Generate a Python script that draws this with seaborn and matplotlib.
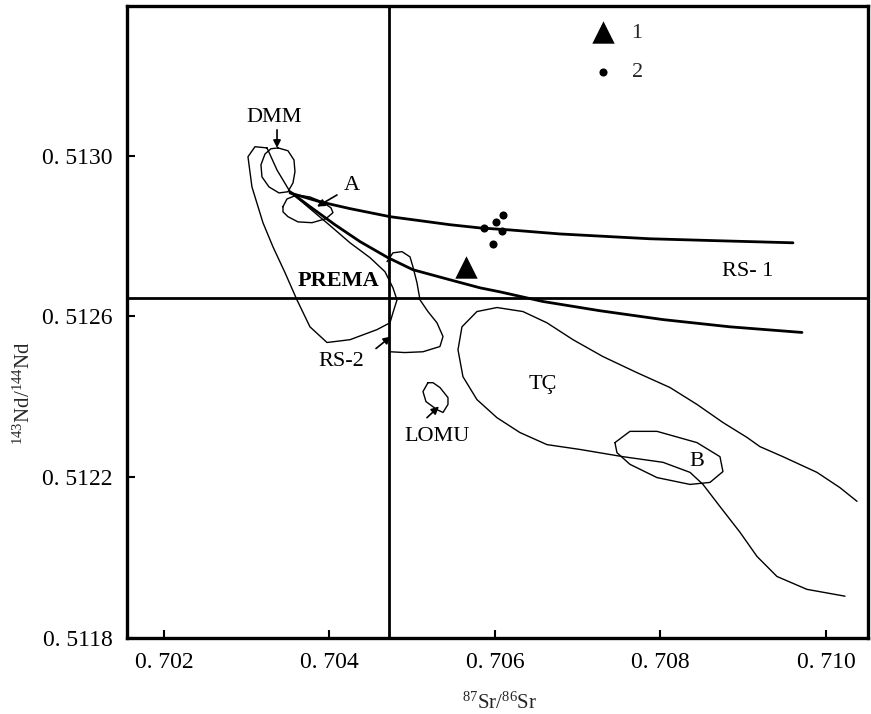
import matplotlib
matplotlib.use("Agg")
import matplotlib.pyplot as plt
import seaborn as sns

# ---------------- data ----------------
xticks = [0.702, 0.704, 0.706, 0.708, 0.710]
xtick_labels = ["0. 702", "0. 704", "0. 706", "0. 708", "0. 710"]
yticks = [0.5118, 0.5122, 0.5126, 0.5130]
ytick_labels = ["0. 5118", "0. 5122", "0. 5126", "0. 5130"]

# reference lines (bulk earth)
sr_ref = 0.70472
nd_ref = 0.512646

# samples
tri_x = [0.705650]
tri_y = [0.512723]
dot_x = [0.705867, 0.706012, 0.706097, 0.706085, 0.705976]
dot_y = [0.512820, 0.512835, 0.512853, 0.512813, 0.512781]

# mixing curves
rs1_x = [0.703523, 0.703885, 0.704248, 0.704731, 0.705094, 0.705456, 0.705819,
         0.706181, 0.706786, 0.707873, 0.708719, 0.709601]
rs1_y = [0.512907, 0.512885, 0.512868, 0.512848, 0.512838, 0.512828, 0.512820,
         0.512815, 0.512805, 0.512793, 0.512788, 0.512783]
rs2_x = [0.703523, 0.703764, 0.704066, 0.704369, 0.704707, 0.705009, 0.705456,
         0.705819, 0.706060, 0.706580, 0.707269, 0.708030, 0.708840, 0.709710]
rs2_y = [0.512910, 0.512873, 0.512828, 0.512786, 0.512746, 0.512716, 0.512691,
         0.512671, 0.512661, 0.512637, 0.512614, 0.512592, 0.512574, 0.512560]

# fields
dmm_x = [0.703378, 0.703498, 0.703571, 0.703583, 0.703559, 0.703498, 0.703390,
         0.703269, 0.703184, 0.703172, 0.703221, 0.703293, 0.703378]
dmm_y = [0.513019, 0.513012, 0.512989, 0.512960, 0.512932, 0.512910, 0.512907,
         0.512922, 0.512947, 0.512977, 0.513004, 0.513017, 0.513019]
a_x = [0.703438, 0.703486, 0.703607, 0.703764, 0.703909, 0.704018, 0.704042,
       0.703958, 0.703789, 0.703619, 0.703498, 0.703438, 0.703438]
a_y = [0.512873, 0.512892, 0.512902, 0.512897, 0.512885, 0.512870, 0.512858,
       0.512843, 0.512833, 0.512835, 0.512848, 0.512860, 0.512873]
prema_x = [0.703245, 0.703100, 0.703015, 0.703063, 0.703196, 0.703317, 0.703462,
           0.703607, 0.703764, 0.703970, 0.704248, 0.704574, 0.704731, 0.704767,
           0.704816, 0.704767, 0.704671, 0.704490, 0.704248, 0.704006, 0.703764,
           0.703523, 0.703366, 0.703245]
prema_y = [0.513019, 0.513022, 0.512997, 0.512922, 0.512833, 0.512773, 0.512709,
           0.512641, 0.512574, 0.512535, 0.512542, 0.512567, 0.512584, 0.512609,
           0.512641, 0.512671, 0.512711, 0.512746, 0.512783, 0.512826, 0.512868,
           0.512910, 0.512964, 0.513019]
ext_x = [0.704695, 0.704767, 0.704876, 0.704973, 0.705009, 0.705057, 0.705094,
         0.705190, 0.705299, 0.705372, 0.705335, 0.705130, 0.704912, 0.704731]
ext_y = [0.512736, 0.512758, 0.512761, 0.512748, 0.512723, 0.512684, 0.512641,
         0.512612, 0.512584, 0.512550, 0.512525, 0.512512, 0.512510, 0.512512]
lomu_x = [0.705190, 0.705130, 0.705166, 0.705299, 0.705372, 0.705432, 0.705432,
          0.705335, 0.705251, 0.705190]
lomu_y = [0.512435, 0.512413, 0.512388, 0.512368, 0.512361, 0.512381, 0.512398,
          0.512423, 0.512435, 0.512435]
tc_x = [0.710375, 0.710169, 0.709891, 0.709480, 0.709202, 0.709045, 0.708755,
        0.708441, 0.708115, 0.707716, 0.707305, 0.706943, 0.706628, 0.706338,
        0.706024, 0.705782, 0.705601, 0.705553, 0.705613, 0.705782, 0.706024,
        0.706302, 0.706628, 0.707027, 0.707547, 0.708030, 0.708357, 0.708514,
        0.708719, 0.708961, 0.709166, 0.709408, 0.709770, 0.710230]
tc_y = [0.512140, 0.512174, 0.512212, 0.512251, 0.512276, 0.512299, 0.512336,
        0.512381, 0.512423, 0.512460, 0.512500, 0.512542, 0.512584, 0.512612,
        0.512622, 0.512612, 0.512574, 0.512517, 0.512450, 0.512393, 0.512348,
        0.512311, 0.512281, 0.512269, 0.512251, 0.512237, 0.512212, 0.512182,
        0.512127, 0.512063, 0.512003, 0.511953, 0.511921, 0.511904]
b_x = [0.707450, 0.707631, 0.707958, 0.708441, 0.708719, 0.708755, 0.708598,
       0.708357, 0.707958, 0.707631, 0.707474, 0.707450]
b_y = [0.512286, 0.512314, 0.512314, 0.512286, 0.512251, 0.512214, 0.512187,
       0.512182, 0.512199, 0.512232, 0.512261, 0.512286]

# labels: text, x, y
label_text = ["DMM", "A", "PREMA", "RS-2", "LOMU", "TÇ", "B", "RS- 1"]
label_x = [0.703329, 0.704272, 0.704103, 0.704139, 0.705299, 0.706580, 0.708441, 0.709058]
label_y = [0.513095, 0.512925, 0.512689, 0.512487, 0.512301, 0.512430, 0.512239, 0.512711]
label_bold = [False, False, True, False, False, False, False, False]

# arrows: (tail x, tail y, tip x, tip y)
arrow_tail_x = [0.703366, 0.704091, 0.704562, 0.705178]
arrow_tail_y = [0.513064, 0.512902, 0.512520, 0.512348]
arrow_tip_x = [0.703366, 0.703849, 0.704743, 0.705323]
arrow_tip_y = [0.513019, 0.512873, 0.512550, 0.512376]

# ---------------- figure ----------------
sns.set_theme(style="white")
plt.rcParams["font.family"] = ["Liberation Serif", "DejaVu Serif"]
plt.rcParams["mathtext.fontset"] = "custom"
plt.rcParams["mathtext.rm"] = "Liberation Serif"
plt.rcParams["mathtext.it"] = "Liberation Serif:italic"
plt.rcParams["mathtext.bf"] = "Liberation Serif:bold"

fig = plt.figure(figsize=(8.71, 7.14), dpi=100)
fig.patch.set_facecolor("white")
ax = fig.add_axes([126.5 / 871, 76 / 714, 741.5 / 871, 632 / 714])
ax.set_facecolor("white")


def draw(xs, ys, lw):
    sns.lineplot(x=xs, y=ys, sort=False, estimator=None, color="black",
                 linewidth=lw, ax=ax, legend=False)


for xs, ys in [(dmm_x, dmm_y), (a_x, a_y), (prema_x, prema_y), (ext_x, ext_y),
               (lomu_x, lomu_y), (tc_x, tc_y), (b_x, b_y)]:
    draw(xs, ys, 1.0)

draw(rs1_x, rs1_y, 2.0)
draw(rs2_x, rs2_y, 2.0)

ax.axhline(nd_ref, color="black", lw=2.0)
ax.axvline(sr_ref, color="black", lw=2.0)

sns.scatterplot(x=tri_x, y=tri_y, marker="^", s=260, color="black",
                edgecolor="black", linewidth=0, label="1", ax=ax, zorder=5)
sns.scatterplot(x=dot_x, y=dot_y, marker="o", s=34, color="black",
                edgecolor="black", linewidth=0, label="2", ax=ax, zorder=5)

for t, x, y, b in zip(label_text, label_x, label_y, label_bold):
    ax.text(x, y, t, ha="center", va="center", fontsize=16,
            fontweight="bold" if b else "normal", color="black")

for tx, ty, hx, hy in zip(arrow_tail_x, arrow_tail_y, arrow_tip_x, arrow_tip_y):
    ax.annotate("", xy=(hx, hy), xytext=(tx, ty),
                arrowprops=dict(arrowstyle="-|>", color="black", lw=1.2,
                                mutation_scale=11, shrinkA=0, shrinkB=0))

ax.set_xlim(0.701547, 0.710508)
ax.set_ylim(0.5118, 0.513372)
ax.set_xticks(xticks)
ax.set_xticklabels(xtick_labels)
ax.set_yticks(yticks)
ax.set_yticklabels(ytick_labels)
ax.tick_params(axis="both", direction="in", length=6, width=1.5,
               labelsize=17, colors="black", pad=10)
ax.tick_params(bottom=True, left=True, top=False, right=False)

for s in ax.spines.values():
    s.set_visible(True)
    s.set_color("black")
    s.set_linewidth(2.4)

ax.set_xlabel(r"$^{87}$Sr/$^{86}$Sr", fontsize=15)
ax.set_ylabel(r"$^{143}$Nd/$^{144}$Nd", fontsize=15)
ax.xaxis.set_label_coords(0.5037, -0.086)
ax.yaxis.set_label_coords(-0.124, 0.3877)

leg = ax.legend(loc="upper left", bbox_to_anchor=(0.6278, 0.9747), frameon=False,
                fontsize=16, handlelength=1.0, handletextpad=0.78,
                labelspacing=0.87, borderpad=0, borderaxespad=0)

fig.savefig("out.png", dpi=100, facecolor="white")
